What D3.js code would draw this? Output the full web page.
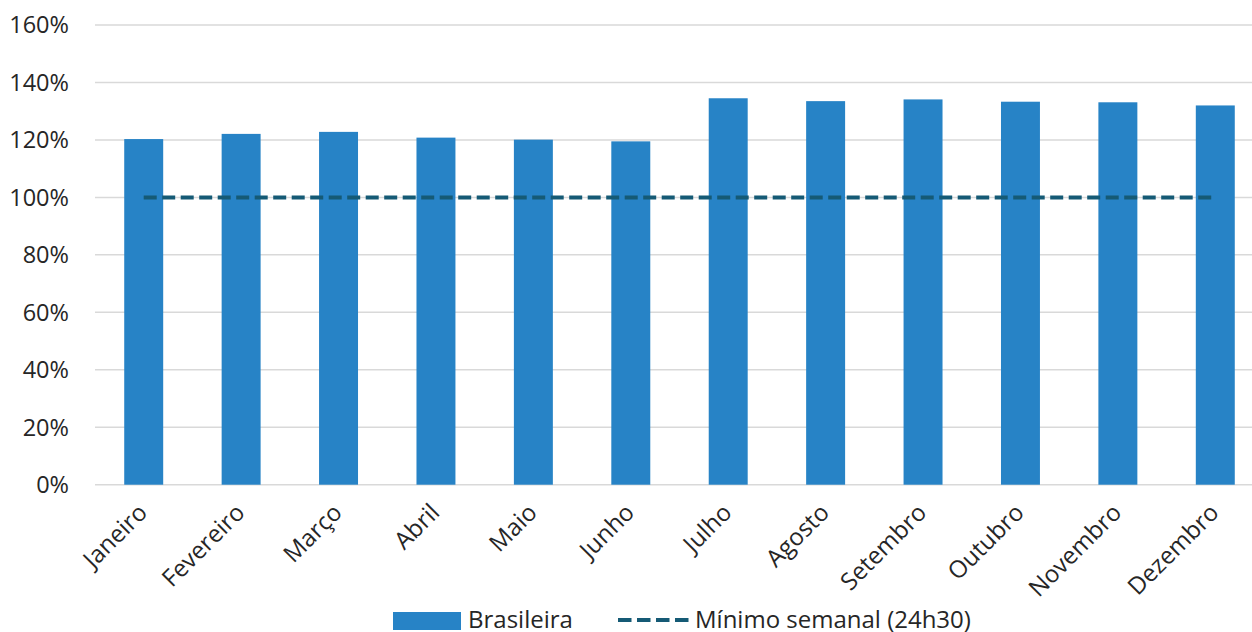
<!DOCTYPE html>
<html><head><meta charset="utf-8">
<script src="https://cdn.jsdelivr.net/npm/d3@7"></script>
<style>body{margin:0;background:#fff;}svg{display:block;font-family:"Open Sans",sans-serif;}</style>
</head><body><svg id="c" width="1252" height="632"></svg>
<script>
const months = ["Janeiro","Fevereiro","Março","Abril","Maio","Junho","Julho","Agosto","Setembro","Outubro","Novembro","Dezembro"];
const brasileira = [120.3,122.1,122.8,120.8,120.1,119.5,134.5,133.5,134.1,133.3,133.1,132.0];
const minimoSemanal = [100,100,100,100,100,100,100,100,100,100,100,100];
const yTicks = [0,20,40,60,80,100,120,140,160];
const seriesNames = ["Brasileira","Mínimo semanal (24h30)"];

(function(){
const svg = d3.select("#c");
const pLeft = 95, pRight = 1264, pTop = 25, pBottom = 484.7;
const x = d3.scaleBand().domain(months).range([pLeft,pRight]).paddingInner(0.6).paddingOuter(0.3);
const y = d3.scaleLinear().domain([0,160]).range([pBottom, pTop]);

// gridlines
svg.append("g").selectAll("line").data(yTicks).join("line")
  .attr("x1",pLeft).attr("x2",1252).attr("y1",d=>y(d)).attr("y2",d=>y(d))
  .attr("stroke","#d9d9d9").attr("stroke-width",1.5);

// y labels
svg.append("g").selectAll("text").data(yTicks).join("text")
  .attr("x",69).attr("y",d=>y(d)).attr("dy","0.36em").attr("text-anchor","end")
  .attr("font-size",23.5).attr("fill","#262626").text(d=>d+"%");

// bars
svg.append("g").selectAll("rect").data(months).join("rect")
  .attr("x",d=>x(d)).attr("width",x.bandwidth())
  .attr("y",(d,i)=>y(brasileira[i])).attr("height",(d,i)=>y(0)-y(brasileira[i]))
  .attr("fill","#2783c6");

// dashed line
const line = d3.line().x((d,i)=>x(months[i])+x.bandwidth()/2).y(d=>y(d));
svg.append("path").datum(minimoSemanal).attr("d",line)
  .attr("fill","none").attr("stroke","#155a75").attr("stroke-width",4)
  .attr("stroke-dasharray","13,5.5");

// x labels
svg.append("g").selectAll("text").data(months).join("text")
  .attr("transform",d=>`translate(${x(d)+x.bandwidth()/2+5},${514}) rotate(-45)`)
  .attr("text-anchor","end").attr("font-size",24).attr("fill","#262626").text(d=>d);

// legend
const lg = svg.append("g");
lg.append("rect").attr("x",393).attr("y",612).attr("width",68).attr("height",18).attr("fill","#2783c6");
lg.append("text").attr("x",468).attr("y",628).attr("font-size",24).attr("fill","#262626").text(seriesNames[0]);
lg.append("line").attr("x1",618).attr("x2",691).attr("y1",620).attr("y2",620)
  .attr("stroke","#155a75").attr("stroke-width",4).attr("stroke-dasharray","13.5,5.5");
lg.append("text").attr("x",695).attr("y",628).attr("font-size",24).attr("fill","#262626").text(seriesNames[1]);
})();
</script></body></html>
